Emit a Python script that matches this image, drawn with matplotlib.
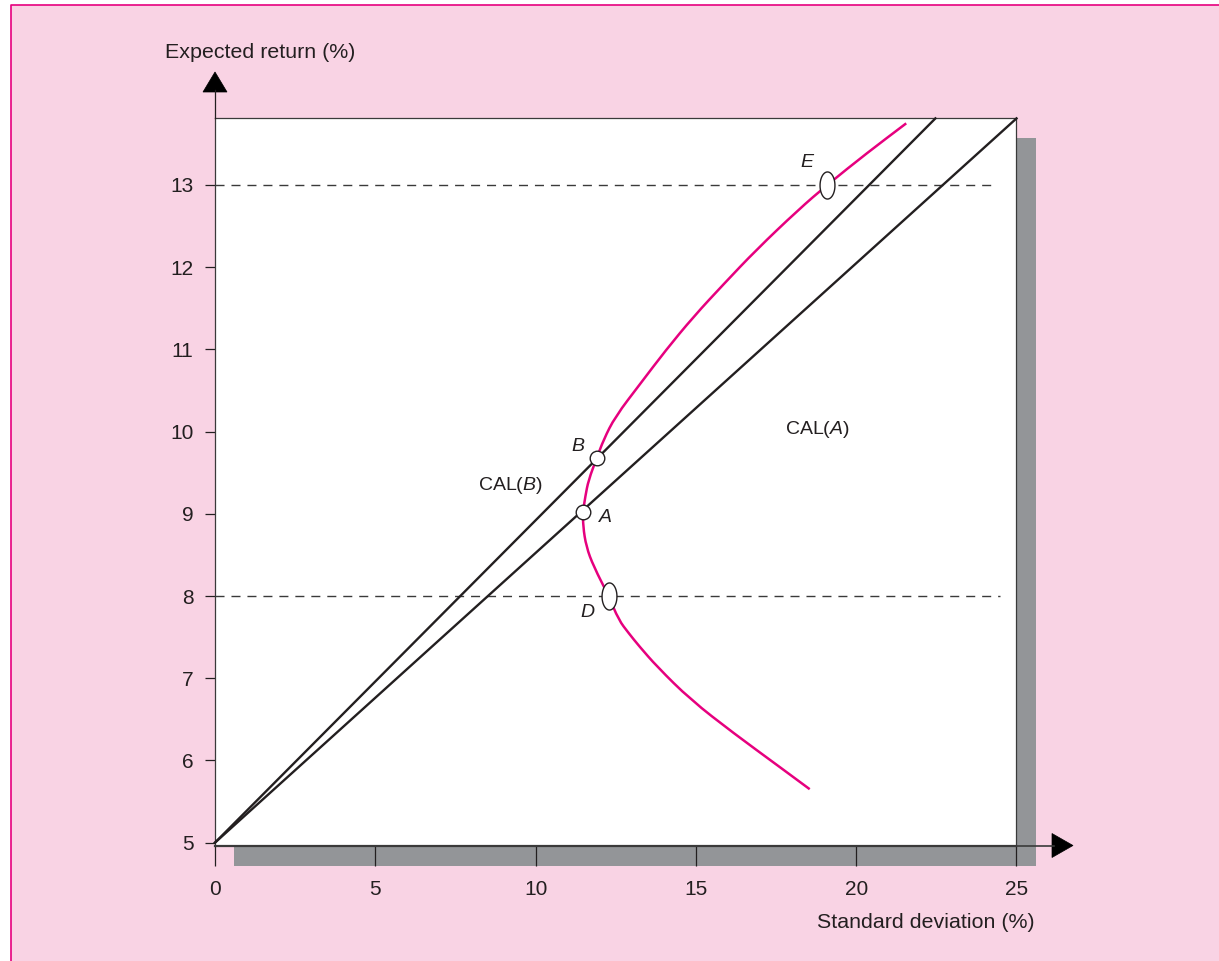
import matplotlib.pyplot as plt
import numpy as np
from matplotlib.patches import Rectangle, Polygon, PathPatch
from matplotlib.lines import Line2D
from matplotlib.path import Path

# --- data ---
frontier_sd = [18.55, 17.58, 16.18, 14.83, 13.79, 13.23, 12.90, 12.59, 12.28, 11.81,
               11.58, 11.48, 11.48, 11.55, 11.65, 11.91, 12.12, 12.48, 13.28, 14.06,
               14.93, 15.88, 16.88, 18.20, 19.09, 20.34, 21.56]
frontier_ret = [5.65, 5.93, 6.33, 6.74, 7.14, 7.39, 7.55, 7.71, 8.00, 8.36,
                8.60, 8.85, 9.03, 9.21, 9.41, 9.68, 9.90, 10.18, 10.59, 10.99,
                11.40, 11.80, 12.21, 12.70, 13.00, 13.39, 13.75]

cal_a_sd = [0, 25.0]
cal_a_ret = [5.0, 13.81]
cal_b_sd = [0, 22.47]
cal_b_ret = [5.0, 13.81]

dash_levels = [13, 8]
dash_end = [24.25, 24.5]

circle_names = ['A', 'B']
circle_sd = [11.48, 11.91]
circle_ret = [9.02, 9.68]
oval_names = ['D', 'E']
oval_sd = [12.28, 19.09]
oval_ret = [8.00, 13.00]

point_labels = ['A', 'B', 'D', 'E']
label_sd = [12.18, 11.33, 11.62, 18.46]
label_ret = [8.95, 9.82, 7.80, 13.27]

cal_labels = ['CAL($\\it{A}$)', 'CAL($\\it{B}$)']
cal_label_sd = [18.79, 9.21]
cal_label_ret = [10.03, 9.35]

xticks = [0, 5, 10, 15, 20, 25]
yticks = [5, 6, 7, 8, 9, 10, 11, 12, 13]

# --- styling ---
W, H = 1219, 961
PINK = '#f9d3e4'
MAGENTA = '#e6007e'
DARK = '#231f20'
GREY = '#939598'

plt.rcParams['font.family'] = ['Liberation Sans', 'DejaVu Sans']
plt.rcParams['mathtext.fontset'] = 'custom'
plt.rcParams['mathtext.it'] = 'Liberation Sans:italic'
plt.rcParams['mathtext.rm'] = 'Liberation Sans'


def fx(x):
    return x / W


def fy(y):
    return 1 - y / H


def smooth_path(xs, ys):
    # quadratic bezier through midpoints, read points act as control points
    pts = np.column_stack([xs, ys])
    verts = [pts[0]]
    codes = [Path.MOVETO]
    for i in range(1, len(pts) - 1):
        mid = (pts[i] + pts[i + 1]) / 2
        verts += [pts[i], mid]
        codes += [Path.CURVE3, Path.CURVE3]
    verts.append(pts[-1])
    codes.append(Path.LINETO)
    return Path(verts, codes)


fig = plt.figure(figsize=(W / 100, H / 100), dpi=100)
fig.patch.set_facecolor('white')

# pink panel with magenta edge on left/top
fig.add_artist(Rectangle((fx(11), 0), 1 - fx(11), fy(5), transform=fig.transFigure,
                         facecolor=PINK, edgecolor='none', zorder=-3))
fig.add_artist(Line2D([fx(11), fx(11), 1], [0, fy(5), fy(5)], transform=fig.transFigure,
                      color=MAGENTA, lw=1.2, zorder=-2))

# grey drop shadow
fig.add_artist(Rectangle((fx(1016), fy(866)), fx(1036) - fx(1016), fy(138) - fy(866),
                         transform=fig.transFigure, facecolor=GREY, edgecolor='none', zorder=-1))
fig.add_artist(Rectangle((fx(234), fy(866)), fx(1036) - fx(234), fy(845) - fy(866),
                         transform=fig.transFigure, facecolor=GREY, edgecolor='none', zorder=-1))

ax = fig.add_axes([fx(215), fy(845.5), fx(1016.5) - fx(215), fy(118) - fy(845.5)])
ax.set_facecolor('white')
ax.set_xlim(0, 25)
ax.set_ylim(4.965, 13.815)

for side in ['left', 'right', 'top']:
    ax.spines[side].set_color('#3a3a3a')
    ax.spines[side].set_linewidth(0.9)
ax.spines['bottom'].set_color('#3a3a3a')
ax.spines['bottom'].set_linewidth(1.6)

ax.set_xticks(xticks)
ax.set_yticks(yticks)
ax.tick_params(axis='x', direction='out', length=14.5, width=0.9, color=DARK,
               labelsize=15, labelcolor=DARK, pad=10)
ax.tick_params(axis='y', direction='out', length=7.5, width=0.9, color=DARK,
               labelsize=15, labelcolor=DARK, pad=8)

# dashed reference levels
for lvl, xe in zip(dash_levels, dash_end):
    ax.plot([0, xe], [lvl, lvl], color='#3a3a3a', lw=1.0, dashes=(6.5, 5), zorder=2)

# capital allocation lines
ax.plot(cal_a_sd, cal_a_ret, color=DARK, lw=1.7, zorder=3, clip_on=False)
ax.plot(cal_b_sd, cal_b_ret, color=DARK, lw=1.7, zorder=3, clip_on=False)

# frontier
ax.add_patch(PathPatch(smooth_path(frontier_sd, frontier_ret), facecolor='none',
                       edgecolor=MAGENTA, lw=1.8, zorder=4, capstyle='butt'))

# markers
ax.plot(circle_sd, circle_ret, 'o', ms=10.5, mfc='white', mec=DARK, mew=1.0,
        zorder=5, ls='none')
t = np.linspace(0, 2 * np.pi, 60)
oval = Path(np.column_stack([0.55 * np.cos(t), np.sin(t)]))
ax.plot(oval_sd, oval_ret, marker=oval, ms=19.5, mfc='white', mec=DARK, mew=1.0,
        zorder=5, ls='none')

for name, x, y in zip(point_labels, label_sd, label_ret):
    ax.text(x, y, name, fontsize=14, style='italic', color=DARK, ha='center', va='center')
for name, x, y in zip(cal_labels, cal_label_sd, cal_label_ret):
    ax.text(x, y, name, fontsize=14, color=DARK, ha='center', va='center')

# axis arrows
fig.add_artist(Line2D([fx(215), fx(215)], [fy(118), fy(90)], transform=fig.transFigure,
                      color=DARK, lw=0.9))
fig.add_artist(Polygon([(fx(203), fy(92)), (fx(227), fy(92)), (fx(215), fy(72))],
                       closed=True, transform=fig.transFigure, facecolor='black',
                       edgecolor='black', lw=0.5))
fig.add_artist(Line2D([fx(1016), fx(1054)], [fy(845.5), fy(845.5)], transform=fig.transFigure,
                      color='#3a3a3a', lw=1.2))
fig.add_artist(Polygon([(fx(1052), fy(833.5)), (fx(1052), fy(857.5)), (fx(1073), fy(845.5))],
                       closed=True, transform=fig.transFigure, facecolor='black',
                       edgecolor='black', lw=0.5))

fig.text(fx(165), fy(52), 'Expected return (%)', fontsize=15.4, color=DARK,
         ha='left', va='center')
fig.text(fx(1035), fy(923), 'Standard deviation (%)', fontsize=15.4, color=DARK,
         ha='right', va='center')

fig.savefig('out.png', dpi=100)
